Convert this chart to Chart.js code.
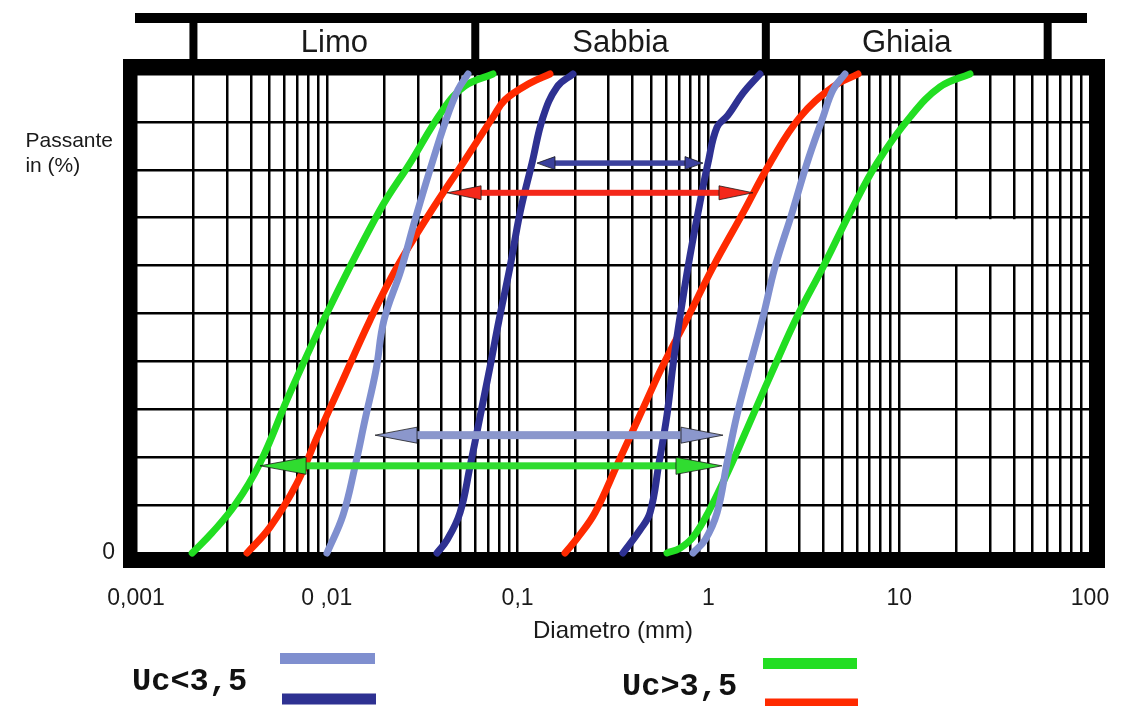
<!DOCTYPE html>
<html>
<head>
<meta charset="utf-8">
<script src="https://cdn.jsdelivr.net/npm/chart.js@4.4.1/dist/chart.umd.min.js"></script>
<style>
html,body{margin:0;padding:0;background:#fff;}
#wrap{width:1130px;height:706px;position:relative;overflow:hidden;}
canvas{display:block;}
</style>
</head>
<body>
<div id="wrap"><canvas id="c" width="1130" height="706"></canvas></div>
<script>
// ---------- DATA ----------
const xTickValues = [0.001, 0.01, 0.1, 1, 10, 100];
const xTickLabels = ['0,001', '0 ,01', '0,1', '1', '10', '100'];
const xTitle = 'Diametro (mm)';
const yTitleLines = ['Passante', 'in (%)'];
const yTickLabel = '0';

const zoneBounds = [0.002, 0.06, 2, 60];
const zoneNames = ['Limo', 'Sabbia', 'Ghiaia'];

const legendGroups = ['Uc<3,5', 'Uc>3,5'];

// Uc<3,5 — light blue curves
const lightFineX = [0.01002, 0.01216, 0.01405, 0.01586, 0.01811, 0.01994, 0.02448, 0.02899, 0.03475, 0.04214, 0.04871, 0.05495];
const lightFineY = [0, 7.9, 18.0, 27.8, 38.2, 48.6, 59.1, 69.5, 80.0, 90.4, 96.7, 100];
const lightCoarseX = [0.8305, 0.96, 1.110, 1.252, 1.412, 1.652, 1.933, 2.234, 2.743, 3.287, 3.987, 4.498, 5.198];
const lightCoarseY = [0, 2.7, 8.4, 18.8, 28.8, 39.2, 49.3, 59.7, 71.0, 81.4, 91.0, 96.7, 100];

// Uc<3,5 — dark blue curves
const darkFineX = [0.03781, 0.04266, 0.0499, 0.05629, 0.06351, 0.07166, 0.07989, 0.09125, 0.1029, 0.1190, 0.1359, 0.1609, 0.1951];
const darkFineY = [0, 2.7, 8.4, 18.0, 28.4, 38.8, 48.6, 59.7, 71.0, 81.4, 91.0, 97.3, 100];
const darkCoarseX = [0.3567, 0.438, 0.4942, 0.551, 0.6067, 0.6523, 0.7098, 0.7818, 0.882, 0.9952, 1.110, 1.267, 1.518, 1.864];
const darkCoarseY = [0, 4.8, 8.4, 18.8, 28.8, 39.2, 49.3, 59.7, 71.0, 81.4, 88.9, 91.4, 96.0, 100];

// Uc>3,5 — green curves
const greenFineX = [0.00197, 0.0025, 0.0033, 0.00447, 0.00641, 0.01002, 0.0190, 0.0273, 0.0406, 0.0530, 0.0743];
const greenFineY = [0, 4.2, 10.0, 18.8, 33.4, 50.1, 71.6, 81.4, 92.5, 97.5, 100];
const greenCoarseX = [0.6067, 0.7098, 0.8305, 0.9954, 1.329, 1.713, 2.234, 2.913, 3.987, 5.522, 7.649, 11.39, 16.36, 23.5];
const greenCoarseY = [0, 1.0, 3.3, 8.4, 18.8, 28.8, 39.2, 49.3, 59.7, 71.0, 81.4, 91.0, 97.3, 100];

// Uc>3,5 — red curves
const redFineX = [0.00382, 0.00504, 0.00698, 0.00889, 0.0117, 0.01684, 0.02333, 0.03475, 0.05172, 0.07431, 0.0859, 0.1161, 0.1478];
const redFineY = [0, 5.4, 14.6, 24.2, 34.7, 48.6, 59.7, 71.0, 81.4, 91.0, 94.6, 98.1, 100];
const redCoarseX = [0.1772, 0.2073, 0.2544, 0.3358, 0.438, 0.5781, 0.7818, 1.057, 1.518, 2.103, 3.021, 4.498, 6.083];
const redCoarseY = [0, 3.3, 8.4, 18.8, 28.8, 39.2, 49.3, 59.7, 71.0, 81.4, 91.0, 97.3, 100];

// double arrows (spread of each group)
const arrowNames = ['dark', 'red', 'light', 'green'];
const arrowY = [81.4, 75.2, 24.6, 18.2];
const arrowFrom = [0.1264, 0.0427, 0.0179, 0.00447];
const arrowTo = [0.9369, 1.713, 1.193, 1.178];

// blank (unruled) cell of the paper
const blankX = [10, 50];
const blankY = [60, 70];

// ---------- STYLE ----------
const COL = { light: '#7f8fcf', dark: '#2e3192', green: '#22de22', red: '#ff2a00' };
const ARROW_STYLE = {
  dark:  { color: '#3b409c', head: 18, half: 6.5, shaft: 5.5 },
  red:   { color: '#f4281a', head: 34, half: 7,   shaft: 6 },
  light: { color: '#8b97cc', head: 42, half: 8,   shaft: 8 },
  green: { color: '#30dc30', head: 46, half: 8.5, shaft: 7 }
};
const FONT = "'Liberation Sans', Arial, Helvetica, sans-serif";
Chart.defaults.font.family = FONT;

function pts(xs, ys) { return xs.map((x, i) => ({ x: x, y: ys[i] })); }
function curve(label, xs, ys, color) {
  return {
    label: label, data: pts(xs, ys), borderColor: color, backgroundColor: color,
    borderWidth: 7, borderCapStyle: 'round', borderJoinStyle: 'round',
    tension: 0.4, pointRadius: 0, fill: false, clip: 8
  };
}

const gridValues = [];
for (let i = 0; i < xTickValues.length - 1; i++) {
  for (let m = 1; m <= 9; m++) gridValues.push(Number((xTickValues[i] * m).toPrecision(6)));
}
gridValues.push(xTickValues[xTickValues.length - 1]);

function labelFor(v) {
  for (let i = 0; i < xTickValues.length; i++) {
    if (Math.abs(v / xTickValues[i] - 1) < 1e-6) return xTickLabels[i];
  }
  return '';
}

// ---------- PLUGINS ----------
const paperPlugin = {
  id: 'paper',
  beforeDatasetsDraw(chart) {
    const ctx = chart.ctx, xs = chart.scales.x, ys = chart.scales.y;
    const { left, right, top, bottom } = chart.chartArea;
    ctx.save();
    const bx1 = xs.getPixelForValue(blankX[0]) + 1.5, bx2 = xs.getPixelForValue(blankX[1]) - 1.5;
    const by1 = ys.getPixelForValue(blankY[1]) + 1.5, by2 = ys.getPixelForValue(blankY[0]) - 1.5;
    ctx.fillStyle = '#fff';
    ctx.fillRect(bx1, by1, bx2 - bx1, by2 - by1);
    ctx.fillStyle = '#000';
    ctx.fillRect(left - 13, top - 15, right - left + 28, 15);
    ctx.fillRect(left - 13, bottom, right - left + 28, 15);
    ctx.fillRect(left - 13, top - 15, 13, bottom - top + 30);
    ctx.fillRect(right, top - 15, 15, bottom - top + 30);
    ctx.restore();
  }
};

const arrowPlugin = {
  id: 'arrows',
  afterDatasetsDraw(chart) {
    const ctx = chart.ctx, xs = chart.scales.x, ys = chart.scales.y;
    ctx.save();
    arrowNames.forEach((name, i) => {
      const st = ARROW_STYLE[name];
      const y = ys.getPixelForValue(arrowY[i]);
      const x1 = xs.getPixelForValue(arrowFrom[i]);
      const x2 = xs.getPixelForValue(arrowTo[i]);
      ctx.fillStyle = st.color;
      ctx.fillRect(x1 + st.head - 2, y - st.shaft / 2, (x2 - x1) - 2 * st.head + 4, st.shaft);
      ctx.strokeStyle = 'rgba(20,20,20,0.75)';
      ctx.lineWidth = 1;
      [[x1, 1], [x2, -1]].forEach(([tip, dir]) => {
        ctx.beginPath();
        ctx.moveTo(tip, y);
        ctx.lineTo(tip + dir * st.head, y - st.half);
        ctx.lineTo(tip + dir * st.head, y + st.half);
        ctx.closePath();
        ctx.fill();
        ctx.stroke();
      });
    });
    ctx.restore();
  }
};

const decorPlugin = {
  id: 'decor',
  afterDraw(chart) {
    const ctx = chart.ctx, xs = chart.scales.x;
    ctx.save();
    ctx.fillStyle = '#000';
    ctx.fillRect(135, 13, 952, 10);
    const px = zoneBounds.map(v => xs.getPixelForValue(v));
    px.forEach(p => ctx.fillRect(p - 4, 13, 8, 47));
    ctx.fillStyle = '#1a1a1a';
    ctx.font = '31px ' + FONT;
    ctx.textAlign = 'center';
    ctx.textBaseline = 'alphabetic';
    zoneNames.forEach((n, i) => ctx.fillText(n, (px[i] + px[i + 1]) / 2, 52));

    ctx.font = '21px ' + FONT;
    ctx.textAlign = 'left';
    const w = ctx.measureText(yTitleLines[0]).width;
    const lx = 113 - w;
    ctx.fillText(yTitleLines[0], lx, 147);
    ctx.fillText(yTitleLines[1], lx, 172);

    ctx.fillStyle = '#111';
    ctx.font = "bold 32px 'Courier New', 'Liberation Mono', monospace";
    ctx.fillText(legendGroups[0], 132, 690);
    ctx.fillText(legendGroups[1], 622, 695);
    ctx.lineCap = 'butt';
    ctx.lineWidth = 11;
    const sw = [[COL.light, 280, 375, 658.5], [COL.dark, 282, 376, 699], [COL.green, 763, 857, 663.5], [COL.red, 765, 858, 704]];
    sw.forEach(([c, a, b, y]) => {
      ctx.strokeStyle = c;
      ctx.beginPath(); ctx.moveTo(a, y); ctx.lineTo(b, y); ctx.stroke();
    });
    ctx.restore();
  }
};

// ---------- CHART ----------
new Chart(document.getElementById('c'), {
  type: 'line',
  data: {
    datasets: [
      curve('Uc<3,5 fine (light)', lightFineX, lightFineY, COL.light),
      curve('Uc<3,5 coarse (light)', lightCoarseX, lightCoarseY, COL.light),
      curve('Uc<3,5 fine (dark)', darkFineX, darkFineY, COL.dark),
      curve('Uc<3,5 coarse (dark)', darkCoarseX, darkCoarseY, COL.dark),
      curve('Uc>3,5 fine (red)', redFineX, redFineY, COL.red),
      curve('Uc>3,5 coarse (red)', redCoarseX, redCoarseY, COL.red),
      curve('Uc>3,5 fine (green)', greenFineX, greenFineY, COL.green),
      curve('Uc>3,5 coarse (green)', greenCoarseX, greenCoarseY, COL.green)
    ]
  },
  options: {
    responsive: false,
    animation: false,
    layout: { padding: { left: 0, right: 40, top: 74, bottom: 0 } },
    plugins: { legend: { display: false }, tooltip: { enabled: false } },
    scales: {
      x: {
        type: 'logarithmic', min: 0.001, max: 100,
        afterBuildTicks: ax => { ax.ticks = gridValues.map(v => ({ value: v })); },
        afterFit: ax => { ax.height = 153; ax.paddingLeft = 0; ax.paddingRight = 0; },
        grid: { color: '#000', lineWidth: 2.5, drawTicks: false },
        border: { display: false },
        ticks: {
          autoSkip: false, maxRotation: 0, minRotation: 0, padding: 32,
          color: '#1a1a1a', font: { size: 23 },
          callback: v => labelFor(v)
        },
        title: {
          display: true, text: xTitle, color: '#1a1a1a',
          font: { size: 24 }, padding: { top: 0, bottom: 60 }
        }
      },
      y: {
        min: 0, max: 100,
        afterFit: ax => { ax.width = 136; ax.paddingTop = 0; ax.paddingBottom = 0; },
        grid: { color: '#000', lineWidth: 2.5, drawTicks: false },
        border: { display: false },
        ticks: {
          stepSize: 10, padding: 21, color: '#1a1a1a', font: { size: 23 },
          callback: v => (v === 0 ? yTickLabel : '')
        }
      }
    }
  },
  plugins: [paperPlugin, arrowPlugin, decorPlugin]
});
</script>
</body>
</html>
